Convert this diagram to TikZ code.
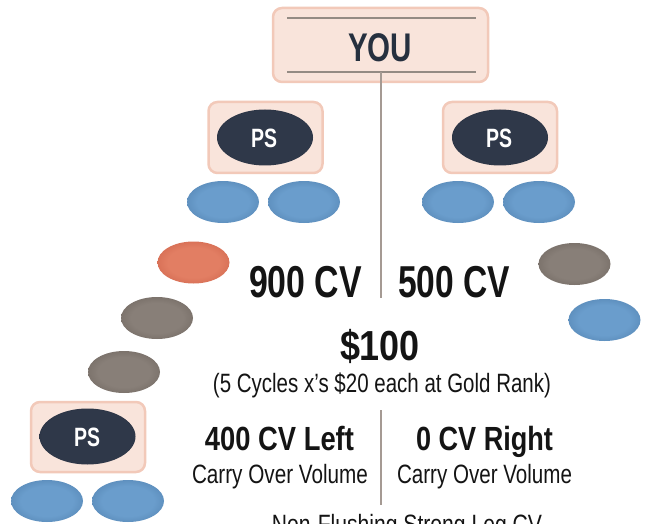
\documentclass[tikz,border=0pt]{standalone}
\usepackage{fontspec}
\setmainfont{Liberation Sans}
\usepackage{graphicx}
\usetikzlibrary{shapes.geometric}
\definecolor{pinkF}{HTML}{F9E4DB}
\definecolor{pinkE}{HTML}{F2C9B9}
\definecolor{lineC}{HTML}{A59A93}
\definecolor{navyT}{HTML}{26303F}
\definecolor{txt}{HTML}{141414}
\definecolor{blueC}{HTML}{6A9DCC}
\definecolor{blueM}{HTML}{5484B2}
\definecolor{blueE}{HTML}{36607F}
\definecolor{darkC}{HTML}{2F3849}
\definecolor{darkE}{HTML}{171D29}
\definecolor{oraC}{HTML}{E27E63}
\definecolor{oraM}{HTML}{D0664D}
\definecolor{oraE}{HTML}{A84531}
\definecolor{grayC}{HTML}{887F78}
\definecolor{grayM}{HTML}{716861}
\definecolor{grayE}{HTML}{4E4640}
\pgfdeclareradialshading{shblue}{\pgfpoint{0bp}{0bp}}{color(0bp)=(blueC); color(18bp)=(blueC); color(32bp)=(blueM); color(38bp)=(blueE); color(50bp)=(blueE)}
\pgfdeclareradialshading{shdark}{\pgfpoint{0bp}{0bp}}{color(0bp)=(darkC); color(24bp)=(darkC); color(38bp)=(darkE); color(50bp)=(darkE)}
\pgfdeclareradialshading{shora}{\pgfpoint{0bp}{0bp}}{color(0bp)=(oraC); color(18bp)=(oraC); color(32bp)=(oraM); color(38bp)=(oraE); color(50bp)=(oraE)}
\pgfdeclareradialshading{shgray}{\pgfpoint{0bp}{0bp}}{color(0bp)=(grayC); color(18bp)=(grayC); color(32bp)=(grayM); color(38bp)=(grayE); color(50bp)=(grayE)}
\newcommand\fitw[2]{\resizebox{#1}{\height}{#2}}
\newcommand\fsz[1]{\fontsize{#1}{#1}\selectfont}
\begin{document}
\begin{tikzpicture}[x=1pt,y=-1pt,
  pbox/.style={rectangle, rounded corners=9pt, fill=pinkF, draw=pinkE, line width=2.5pt, inner sep=0},
  eball/.style={ellipse, inner sep=0, minimum width=72pt, minimum height=42pt},
  bl/.style={eball, shading=shblue},
  ora/.style={eball, shading=shora},
  gr/.style={eball, shading=shgray},
  ps/.style={ellipse, inner sep=0, minimum width=96pt, minimum height=56pt, shading=shdark},
  pst/.style={anchor=base, text=white, font=\bfseries\fsz{26.5}},
  vline/.style={draw=lineC, line width=1.5pt},
  hline/.style={draw=lineC!90!black, line width=1.6pt},
  big/.style={anchor=base, text=txt, font=\bfseries\fsz{44.7}},
  mid/.style={anchor=base, text=txt, font=\bfseries\fsz{33.5}},
  small/.style={anchor=base, text=txt, font=\fsz{26.5}}]
\useasboundingbox (0,0) rectangle (648,524);
\clip (0,0) rectangle (648,524);
% YOU box
\node[pbox, minimum width=215pt, minimum height=74pt] (you) at (380.5,45) {};
\coordinate (hl1a) at (287,18); \coordinate (hl1b) at (476,18);
\coordinate (hl2a) at (287,72); \coordinate (hl2b) at (476,72);
\draw[hline] (hl1a) -- (hl1b);
\draw[hline] (hl2a) -- (hl2b);
\node[anchor=base, text=navyT, font=\bfseries\fsz{40}] (youtxt) at (380,62) {\fitw{64pt}{YOU}};
% vertical lines
\coordinate (v1) at (381,72); \coordinate (v2) at (381,298);
\coordinate (v3) at (381,410); \coordinate (v4) at (381,505);
\draw[vline] (v1) -- (v2);
\draw[vline] (v3) -- (v4);
% left PS
\node[pbox, minimum width=114pt, minimum height=71pt] (lbox) at (265.5,137.5) {};
\node[ps] (lps) at (265,137.5) {};
\node[pst] (lpst) at (264,147) {\fitw{26pt}{PS}};
\node[bl] (lb1) at (223,202) {};
\node[bl] (lb2) at (304,202) {};
% right PS
\node[pbox, minimum width=114pt, minimum height=71pt] (rbox) at (500,137.5) {};
\node[ps] (rps) at (500,137.5) {};
\node[pst] (rpst) at (499,147) {\fitw{26pt}{PS}};
\node[bl] (rb1) at (458,202) {};
\node[bl] (rb2) at (539,202) {};
% left leg
\node[ora] (o1) at (193.5,262.5) {};
\node[gr] (g1) at (157,318) {};
\node[gr] (g2) at (124,372) {};
% right leg
\node[gr] (g3) at (574.5,264) {};
\node[bl] (rb3) at (604.5,320) {};
% bottom PS
\node[pbox, minimum width=114pt, minimum height=70pt] (bbox) at (88,437) {};
\node[ps] (bps) at (87.5,436.5) {};
\node[pst] (bpst) at (87,446) {\fitw{26pt}{PS}};
\node[bl] (bb1) at (47,501) {};
\node[bl] (bb2) at (128,501) {};
% texts
\node[big] (t900) at (305.5,297) {\fitw{113pt}{900 CV}};
\node[big] (t500) at (454,297) {\fitw{112pt}{500 CV}};
\node[big, font=\bfseries\fsz{42}] (t100) at (380,360) {\fitw{80pt}{\$100}};
\node[small] (tcyc) at (382,392) {\fitw{338pt}{(5 Cycles x’s \$20 each at Gold Rank)}};
\node[mid] (tleft) at (279.5,450) {\fitw{149pt}{400 CV Left}};
\node[mid] (tright) at (484.5,450) {\fitw{137pt}{0 CV Right}};
\node[small] (cl) at (280,483) {\fitw{176pt}{Carry Over Volume}};
\node[small] (cr) at (484.5,483) {\fitw{175pt}{Carry Over Volume}};
\node[small] (nf) at (407,533) {\fitw{270pt}{Non-Flushing Strong Leg CV}};
\end{tikzpicture}
\end{document}
